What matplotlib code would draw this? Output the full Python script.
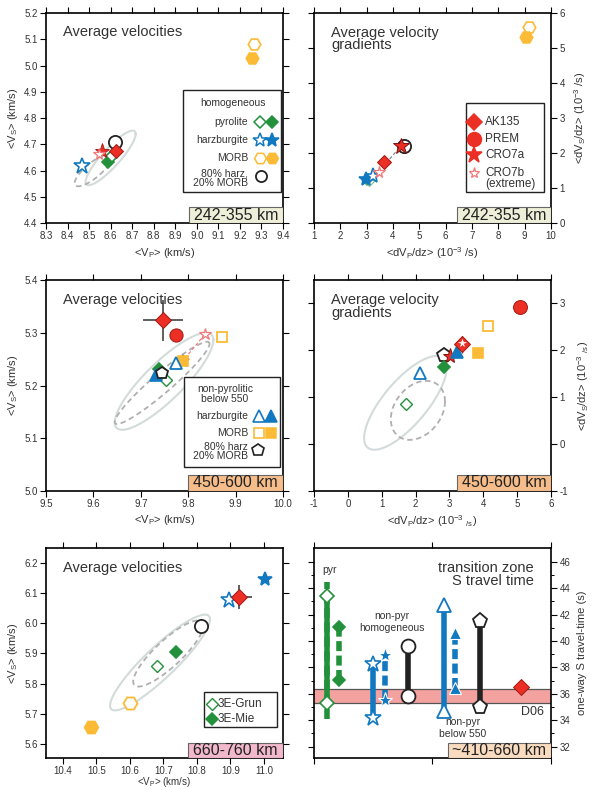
import matplotlib
matplotlib.use("Agg")

import numpy as np
import matplotlib.pyplot as plt
from matplotlib.patches import Rectangle

plt.rcParams['font.family'] = ['Liberation Sans', 'DejaVu Sans']
plt.rcParams['mathtext.default'] = 'regular'
plt.rcParams['axes.unicode_minus'] = False

GREEN = '#23913b'
BLUE = '#1279c0'
ORANGE = '#fbbb36'
RED = '#ec2f25'
PINK = '#f07878'
DARK = '#222222'
TXT = '#333333'
ELL_SOLID = '#d3dbdb'
ELL_DASH = '#b0b0b0'

# ---- 242-355 km : average velocities <Vp>, <Vs> (km/s)
v1_pyr_open = [8.607, 4.657]
v1_pyr_fill = [8.587, 4.632]
v1_harz_open = [8.468, 4.618]
v1_morb_open = [9.265, 5.081]
v1_morb_fill = [9.257, 5.027]
v1_mix = [8.618, 4.710]
v1_ak135 = [8.623, 4.676]
v1_cro7a = [8.560, 4.676]
v1_cro7b = [8.548, 4.663]

# ---- 242-355 km : average gradients <dVp/dz>, <dVs/dz> (1e-3 /s)
g1_morb_open = [9.16, 5.60]
g1_morb_fill = [9.04, 5.32]
g1_mix = [4.40, 2.20]
g1_cro7a = [4.31, 2.21]
g1_ak135 = [3.66, 1.74]
g1_cro7b = [3.46, 1.47]
g1_harz_open = [3.23, 1.33]
g1_harz_fill = [2.96, 1.26]
g1_pyr_open = [3.09, 1.19]
g1_pyr_fill = [3.02, 1.23]

# ---- 450-600 km : average velocities
v2_ak135 = [9.747, 5.324]
v2_ak135_err = [0.042, 0.039]
v2_prem = [9.774, 5.295]
v2_cro7b = [9.835, 5.297]
v2_cro7a = [9.789, 5.247]
v2_morb_open = [9.872, 5.292]
v2_morb_fill = [9.789, 5.247]
v2_harz_open = [9.775, 5.242]
v2_pyr_fill = [9.738, 5.232]
v2_harz_fill = [9.731, 5.220]
v2_mix = [9.745, 5.223]
v2_pyr_open = [9.754, 5.210]

# ---- 450-600 km : average gradients
g2_prem = [5.095, 2.93]
g2_morb_open = [4.13, 2.51]
g2_ak135 = [3.37, 2.13]
g2_ak135_err = [0.15, 0.18]
g2_cro7b = [3.37, 2.16]
g2_morb_fill = [3.84, 1.94]
g2_harz_fill = [3.22, 1.96]
g2_cro7a = [3.02, 1.89]
g2_mix = [2.83, 1.91]
g2_pyr_fill = [2.85, 1.65]
g2_harz_open = [2.12, 1.52]
g2_pyr_open = [1.72, 0.85]

# ---- 660-760 km : average velocities
v3_harz_fill = [11.002, 6.147]
v3_harz_open = [10.895, 6.078]
v3_ak135 = [10.927, 6.087]
v3_ak135_err = [0.037, 0.040]
v3_mix = [10.811, 5.990]
v3_pyr_fill = [10.738, 5.904]
v3_pyr_open = [10.682, 5.860]
v3_morb_open = [10.601, 5.737]
v3_morb_fill = [10.484, 5.656]

# ---- uncertainty ellipses: centre, half-extent, correlation
ell_v1 = [[(8.600, 4.648), (0.116, 0.104), 0.88], [(8.518, 4.600), (0.085, 0.060), 0.80]]
ell_g2 = [[(1.70, 0.88), (1.22, 1.00), 0.75], [(2.07, 0.72), (0.80, 0.63), 0.30]]
ell_v2 = [[(9.749, 5.208), (0.104, 0.092), 0.85], [(9.745, 5.205), (0.100, 0.078), 0.95]]
ell_v3 = [[(10.690, 5.870), (0.149, 0.159), 0.90], [(10.715, 5.900), (0.105, 0.110), 0.85]]

# ---- transition zone one-way S travel time (s)
tt_pyr_grun = [35.3, 43.4]
tt_pyr_grun_ext = [34.1, 44.5]
tt_pyr_mie = [37.04, 41.08]
tt_harz_grun = [34.14, 38.25]
tt_harz_mie = [35.53, 38.94]
tt_mix = [35.86, 39.62]
tt_harz550_grun = [34.72, 42.72]
tt_harz550_mie = [36.41, 40.58]
tt_mix550 = [35.03, 41.53]
tt_d06 = [35.3, 36.35]
tt_ak135 = 36.54
tt_xpos = [0.107, 0.211, 0.501, 0.603, 0.797, 1.099, 1.192, 1.403, 1.746]


def pt(ax, xy, marker, color, filled=True, ms=9, mew=1.2, mec=None, z=5, **kw):
    ax.plot([xy[0]], [xy[1]], marker=marker, ms=ms, ls='none',
            mfc=color if filled else 'white',
            mec=(mec if mec else color), mew=mew, zorder=z, **kw)


def ellipse(ax, spec, **kw):
    (cx, cy), (sx, sy), rho = spec
    t = np.linspace(0, 2 * np.pi, 200)
    x = cx + sx * np.cos(t)
    y = cy + sy * (rho * np.cos(t) + np.sqrt(1 - rho ** 2) * np.sin(t))
    ax.plot(x, y, **kw)


def ellipses(ax, specs):
    ellipse(ax, specs[0], color=ELL_SOLID, lw=1.5, zorder=2)
    ellipse(ax, specs[1], color=ELL_DASH, lw=1.3, ls=(0, (3, 2)), zorder=2)


def setup(ax, xlim, ylim, xticks, yticks, right=False):
    ax.set_xlim(*xlim)
    ax.set_ylim(*ylim)
    ax.set_xticks(xticks)
    ax.set_yticks(yticks)
    ax.tick_params(direction='out', length=4, width=0.8, top=True, right=True,
                   labelsize=7, labelcolor=TXT, pad=2)
    if right:
        ax.tick_params(labelleft=False, labelright=True)
        ax.yaxis.set_label_position('right')
    for s in ax.spines.values():
        s.set_linewidth(1.2)


def range_box(ax, text, color, x0=0.603, h=0.076):
    ax.add_patch(Rectangle((x0, 0), 1 - x0, h, transform=ax.transAxes,
                           fc=color, ec='#666666', lw=0.8, zorder=10))
    ax.text((1 + x0) / 2, h / 2, text, transform=ax.transAxes, ha='center',
            va='center', fontsize=11.5, color='#222222', zorder=11)


def legend_box(ax, x0, y0, x1, y1):
    ax.add_patch(Rectangle((x0, y0), x1 - x0, y1 - y0, transform=ax.transAxes,
                           fc='white', ec=DARK, lw=1.0, zorder=8))


def lmark(ax, x, y, marker, color, filled=True, ms=8, mew=1.1):
    ax.plot([x], [y], marker=marker, ms=ms, ls='none', transform=ax.transAxes,
            mfc=color if filled else 'white', mec=color, mew=mew, zorder=9,
            clip_on=False)


def ltext(ax, x, y, s, ha='right', size=7.5):
    ax.text(x, y, s, transform=ax.transAxes, ha=ha, va='center',
            fontsize=size, color=TXT, zorder=9, linespacing=0.9)


def title(ax, s, y):
    ax.text(0.073, y, s, transform=ax.transAxes, ha='left', va='top',
            fontsize=10.5, color=TXT, linespacing=0.85, zorder=6)


fig = plt.figure(figsize=(6, 7.9), dpi=100)
W, H = 0.395, 0.2658
ax1 = fig.add_axes([0.0767, 0.7177, W, H])
ax2 = fig.add_axes([0.5233, 0.7177, W, H])
ax3 = fig.add_axes([0.0767, 0.3785, W, 0.267])
ax4 = fig.add_axes([0.5233, 0.3785, W, 0.267])
ax5 = fig.add_axes([0.0767, 0.0405, W, H])
ax6 = fig.add_axes([0.5233, 0.0405, W, H])

vp_label = '<V$_P$> (km/s)'
vs_label = '<V$_S$> (km/s)'

# ================= panel 1
ax = ax1
setup(ax, (8.3, 9.4), (4.4, 5.2), np.arange(8.3, 9.41, 0.1), np.arange(4.4, 5.21, 0.1))
ax.set_xticklabels([f'{v:.1f}' for v in np.arange(8.3, 9.41, 0.1)])
ax.set_yticklabels([f'{v:.1f}' for v in np.arange(4.4, 5.21, 0.1)])
ellipses(ax, ell_v1)
pt(ax, v1_morb_open, 'H', ORANGE, False, ms=9, mew=1.2)
pt(ax, v1_morb_fill, 'H', ORANGE, True, ms=9)
pt(ax, v1_harz_open, '*', BLUE, False, ms=12, mew=1.2)
pt(ax, v1_pyr_fill, 'D', GREEN, True, ms=6.5)
pt(ax, v1_pyr_open, 'D', GREEN, False, ms=6.5)
pt(ax, v1_mix, 'o', DARK, False, ms=9.5, mew=1.3)
pt(ax, v1_cro7a, '*', RED, True, ms=11, mec='#a01812', mew=0.6)
pt(ax, v1_cro7b, '*', PINK, False, ms=8.5, mew=0.9)
pt(ax, v1_ak135, 'D', RED, True, ms=7.5, mec='#a01812', mew=0.7)
title(ax, 'Average velocities', 0.945)
legend_box(ax, 0.578, 0.148, 0.992, 0.633)
ltext(ax, 0.789, 0.573, 'homogeneous', ha='center')
ltext(ax, 0.852, 0.482, 'pyrolite')
lmark(ax, 0.903, 0.482, 'D', GREEN, False, ms=6)
lmark(ax, 0.952, 0.482, 'D', GREEN, True, ms=6)
ltext(ax, 0.852, 0.395, 'harzburgite')
lmark(ax, 0.903, 0.395, '*', BLUE, False, ms=10)
lmark(ax, 0.952, 0.395, '*', BLUE, True, ms=10)
ltext(ax, 0.852, 0.308, 'MORB')
lmark(ax, 0.903, 0.308, 'H', ORANGE, False, ms=8.5)
lmark(ax, 0.952, 0.308, 'H', ORANGE, True, ms=8.5)
ltext(ax, 0.852, 0.212, '80% harz,\n20% MORB')
lmark(ax, 0.907, 0.222, 'o', DARK, False, ms=8, mew=1.3)
range_box(ax, '242-355 km', '#efefd9')
ax.set_xlabel(vp_label, fontsize=8, color=TXT, labelpad=3)
ax.set_ylabel(vs_label, fontsize=8, color=TXT, labelpad=3)

# ================= panel 2
ax = ax2
setup(ax, (1, 10), (0, 6), range(1, 11), range(0, 7), right=True)
pt(ax, g1_morb_open, 'H', ORANGE, False, ms=9)
pt(ax, g1_morb_fill, 'H', ORANGE, True, ms=9)
ax.plot([g1_cro7b[0], g1_cro7a[0]], [g1_cro7b[1], g1_cro7a[1]], color='#777777',
        lw=0.8, ls=(0, (3, 2)), zorder=3)
pt(ax, g1_pyr_open, 'D', GREEN, False, ms=5.5, mew=0.8, alpha=0.6)
pt(ax, g1_pyr_fill, 'D', GREEN, True, ms=5.5, alpha=0.6)
pt(ax, g1_harz_fill, '*', BLUE, True, ms=10)
pt(ax, g1_harz_open, '*', BLUE, False, ms=11)
pt(ax, g1_cro7b, '*', PINK, False, ms=8.5, mew=0.9)
pt(ax, g1_ak135, 'D', RED, True, ms=7.5, mec='#a01812', mew=0.7)
pt(ax, g1_mix, 'o', DARK, False, ms=9.5, mew=1.3)
pt(ax, g1_cro7a, '*', RED, True, ms=12, mec='#801010', mew=0.7)
title(ax, 'Average velocity\ngradients', 0.938)
legend_box(ax, 0.641, 0.148, 0.970, 0.571)
lmark(ax, 0.675, 0.482, 'D', RED, True, ms=8)
ltext(ax, 0.722, 0.482, 'AK135', ha='left', size=8.5)
lmark(ax, 0.675, 0.398, 'o', RED, True, ms=10)
ltext(ax, 0.722, 0.398, 'PREM', ha='left', size=8.5)
lmark(ax, 0.675, 0.322, '*', RED, True, ms=12)
ltext(ax, 0.722, 0.322, 'CRO7a', ha='left', size=8.5)
lmark(ax, 0.675, 0.240, '*', PINK, False, ms=8, mew=0.9)
ltext(ax, 0.722, 0.212, 'CRO7b\n(extreme)', ha='left', size=8.5)
range_box(ax, '242-355 km', '#efefd9', x0=0.602)
ax.set_xlabel('<dV$_P$/dz> (10$^{-3}$ /s)', fontsize=8, color=TXT, labelpad=3)
ax.set_ylabel('<dV$_S$/dz> (10$^{-3}$ /s)', fontsize=8, color=TXT, labelpad=5)

# ================= panel 3
ax = ax3
setup(ax, (9.5, 10.0), (5.0, 5.4), np.arange(9.5, 10.01, 0.1), np.arange(5.0, 5.41, 0.1))
ax.set_xticklabels([f'{v:.1f}' for v in np.arange(9.5, 10.01, 0.1)])
ax.set_yticklabels([f'{v:.1f}' for v in np.arange(5.0, 5.41, 0.1)])
ellipses(ax, ell_v2)
ax.plot([v2_cro7b[0], v2_cro7a[0]], [v2_cro7b[1], v2_cro7a[1]], color=PINK,
        lw=0.8, ls=(0, (3, 2)), zorder=3)
ax.errorbar([v2_ak135[0]], [v2_ak135[1]], xerr=[v2_ak135_err[0]], yerr=[v2_ak135_err[1]],
            fmt='none', ecolor='#444444', elinewidth=1.2, capsize=0, zorder=4)
pt(ax, v2_ak135, 'D', RED, True, ms=8, mec='#a01812', mew=0.7)
pt(ax, v2_prem, 'o', RED, True, ms=9.5, mec='#a01812', mew=0.7)
pt(ax, v2_cro7b, '*', PINK, False, ms=9, mew=0.9)
pt(ax, v2_morb_open, 's', ORANGE, False, ms=7, mew=1.3)
pt(ax, v2_cro7a, '*', '#8a3020', True, ms=9)
pt(ax, v2_morb_fill, 's', ORANGE, True, ms=6.5)
pt(ax, v2_harz_open, '^', BLUE, False, ms=8, mew=1.3)
pt(ax, v2_pyr_open, 'D', GREEN, False, ms=6.5, mew=1.0)
pt(ax, v2_pyr_fill, 'D', GREEN, True, ms=6.5)
pt(ax, v2_harz_fill, '^', BLUE, True, ms=8)
pt(ax, v2_mix, 'p', DARK, False, ms=9, mew=1.3)
title(ax, 'Average velocities', 0.94)
legend_box(ax, 0.582, 0.114, 0.987, 0.540)
ltext(ax, 0.755, 0.46, 'non-pyrolitic\nbelow 550', ha='center')
ltext(ax, 0.853, 0.357, 'harzburgite')
lmark(ax, 0.900, 0.357, '^', BLUE, False, ms=8, mew=1.2)
lmark(ax, 0.948, 0.357, '^', BLUE, True, ms=8)
ltext(ax, 0.853, 0.277, 'MORB')
lmark(ax, 0.900, 0.277, 's', ORANGE, False, ms=7, mew=1.2)
lmark(ax, 0.948, 0.277, 's', ORANGE, True, ms=6.5)
ltext(ax, 0.853, 0.187, '80% harz\n20% MORB')
lmark(ax, 0.896, 0.192, 'p', DARK, False, ms=9, mew=1.2)
range_box(ax, '450-600 km', '#f6bd8a', x0=0.598)
ax.set_xlabel(vp_label, fontsize=8, color=TXT, labelpad=3)
ax.set_ylabel(vs_label, fontsize=8, color=TXT, labelpad=3)

# ================= panel 4
ax = ax4
setup(ax, (-1, 6), (-1, 3.5), range(-1, 7), range(-1, 4), right=True)
ellipses(ax, ell_g2)
pt(ax, g2_prem, 'o', RED, True, ms=10, mec='#a01812', mew=0.7)
pt(ax, g2_morb_open, 's', ORANGE, False, ms=7, mew=1.3)
pt(ax, g2_morb_fill, 's', ORANGE, True, ms=6.5)
pt(ax, g2_mix, 'p', DARK, False, ms=10, mew=1.3)
pt(ax, g2_cro7a, '*', RED, True, ms=11, mec='#801010', mew=0.7)
pt(ax, g2_harz_fill, '^', BLUE, True, ms=8)
ax.errorbar([g2_ak135[0]], [g2_ak135[1]], xerr=[g2_ak135_err[0]], yerr=[g2_ak135_err[1]],
            fmt='none', ecolor='#444444', elinewidth=1.0, capsize=0, zorder=4)
pt(ax, g2_ak135, 'D', RED, True, ms=8, mec='#a01812', mew=0.7)
pt(ax, g2_cro7b, '*', 'white', True, ms=5.5, mec='white', mew=0.4)
pt(ax, g2_pyr_fill, 'D', GREEN, True, ms=6.5)
pt(ax, g2_harz_open, '^', BLUE, False, ms=9, mew=1.3)
pt(ax, g2_pyr_open, 'D', GREEN, False, ms=6.5, mew=1.0)
title(ax, 'Average velocity\ngradients', 0.937)
range_box(ax, '450-600 km', '#f6bd8a', x0=0.602)
ax.set_xlabel('<dV$_P$/dz> (10$^{-3}$ $_{/s}$)', fontsize=8, color=TXT, labelpad=3)
ax.set_ylabel('<dV$_S$/dz> (10$^{-3}$ $_{/s}$)', fontsize=8, color=TXT, labelpad=5)

# ================= panel 5
ax = ax5
setup(ax, (10.35, 11.057), (5.553, 6.25), np.arange(10.4, 11.01, 0.1), np.arange(5.6, 6.21, 0.1))
ax.set_xticklabels([f'{v:.1f}' for v in np.arange(10.4, 11.01, 0.1)])
ax.set_yticklabels([f'{v:.1f}' for v in np.arange(5.6, 6.21, 0.1)])
ax.tick_params(axis='x', pad=1.5)
ellipses(ax, ell_v3)
pt(ax, v3_harz_fill, '*', BLUE, True, ms=10)
pt(ax, v3_harz_open, '*', BLUE, False, ms=12, mew=1.2)
ax.errorbar([v3_ak135[0]], [v3_ak135[1]], xerr=[v3_ak135_err[0]], yerr=[v3_ak135_err[1]],
            fmt='none', ecolor='#444444', elinewidth=1.2, capsize=0, zorder=4)
pt(ax, v3_ak135, 'D', RED, True, ms=8, mec='#a01812', mew=0.7)
pt(ax, v3_mix, 'o', DARK, False, ms=9.5, mew=1.3)
pt(ax, v3_pyr_fill, 'D', GREEN, True, ms=6.5)
pt(ax, v3_pyr_open, 'D', GREEN, False, ms=6.5, mew=1.0)
pt(ax, v3_morb_open, 'H', ORANGE, False, ms=10, mew=1.3)
pt(ax, v3_morb_fill, 'H', ORANGE, True, ms=10)
title(ax, 'Average velocities', 0.94)
legend_box(ax, 0.667, 0.148, 0.975, 0.314)
lmark(ax, 0.702, 0.256, 'D', GREEN, False, ms=6, mew=1.0)
ltext(ax, 0.724, 0.256, '3E-Grun', ha='left', size=8.5)
lmark(ax, 0.702, 0.186, 'D', GREEN, True, ms=6)
ltext(ax, 0.724, 0.186, '3E-Mie', ha='left', size=8.5)
range_box(ax, '660-760 km', '#f2b8cb', x0=0.598, h=0.073)
ax.set_xlabel(vp_label, fontsize=7, color=TXT)
ax.xaxis.set_label_coords(0.5, -0.082)
ax.xaxis.label.set_va('top')
ax.set_ylabel(vs_label, fontsize=8, color=TXT, labelpad=3)

# ================= panel 6
ax = ax6
setup(ax, (0, 2), (31.14, 47.04), [0, 1, 2], range(32, 47, 2), right=True)
ax.set_yticks(range(32, 47), minor=True)
ax.tick_params(which='minor', direction='out', length=2.5, width=0.7, right=True)
ax.tick_params(axis='x', labelbottom=False)
ax.axhspan(tt_d06[0], tt_d06[1], fc='#f4a2a0', ec='none', zorder=1)
ax.axhline(tt_d06[0], color='#555555', lw=0.9, zorder=1)
ax.axhline(tt_d06[1], color='#555555', lw=0.9, zorder=1)
dash = (0, (1.8, 0.8))
x = tt_xpos
ax.plot([x[0], x[0]], tt_pyr_grun_ext, color=GREEN, lw=4, ls=dash, zorder=3)
ax.plot([x[0], x[0]], tt_pyr_grun, color=GREEN, lw=4, zorder=3)
for v in tt_pyr_grun:
    pt(ax, (x[0], v), 'D', GREEN, False, ms=7.5, mew=1.2)
ax.plot([x[1], x[1]], tt_pyr_mie, color=GREEN, lw=4, ls=dash, zorder=3)
for v in tt_pyr_mie:
    pt(ax, (x[1], v), 'D', GREEN, True, ms=6.5)
ax.plot([x[2], x[2]], tt_harz_grun, color=BLUE, lw=4, zorder=3)
for v in tt_harz_grun:
    pt(ax, (x[2], v), '*', BLUE, False, ms=12, mew=1.2)
ax.plot([x[3], x[3]], tt_harz_mie, color=BLUE, lw=4, ls=dash, zorder=3)
for v in tt_harz_mie:
    pt(ax, (x[3], v), '*', BLUE, True, ms=11, mec='white', mew=0.8)
ax.plot([x[4], x[4]], tt_mix, color=DARK, lw=4, zorder=3)
for v in tt_mix:
    pt(ax, (x[4], v), 'o', DARK, False, ms=10, mew=1.3)
ax.plot([x[5], x[5]], tt_harz550_grun, color=BLUE, lw=4, zorder=3)
for v in tt_harz550_grun:
    pt(ax, (x[5], v), '^', BLUE, False, ms=10, mew=1.3)
ax.plot([x[6], x[6]], tt_harz550_mie, color=BLUE, lw=4, ls=dash, zorder=3)
for v in tt_harz550_mie:
    pt(ax, (x[6], v), '^', BLUE, True, ms=9, mec='white', mew=0.8)
ax.plot([x[7], x[7]], tt_mix550, color=DARK, lw=4, zorder=3)
for v in tt_mix550:
    pt(ax, (x[7], v), 'p', DARK, False, ms=11, mew=1.3)
pt(ax, (x[8], tt_ak135), 'D', RED, True, ms=8, mec='#a01812', mew=0.7)
ax.text(0.135, 45.4, 'pyr', ha='center', va='center', fontsize=7.5, color=TXT)
ax.text(0.656, 41.45, 'non-pyr\nhomogeneous', ha='center', va='center',
        fontsize=7.5, color=TXT, linespacing=1.3)
ax.text(1.255, 33.4, 'non-pyr\nbelow 550', ha='center', va='center',
        fontsize=7.5, color=TXT, linespacing=1.3)
ax.text(1.854, 45.05, 'transition zone\nS travel time', ha='right', va='center',
        fontsize=10.5, color=TXT, linespacing=0.95)
ax.text(1.84, 34.6, 'D06', ha='center', va='center', fontsize=9, color=TXT)
range_box(ax, '~410-660 km', '#f9dcc0', x0=0.564, h=0.073)
ax.set_ylabel('one-way S travel-time (s)', fontsize=8, color=TXT, labelpad=5)

fig.savefig('out.png', dpi=100)
plt.close(fig)
